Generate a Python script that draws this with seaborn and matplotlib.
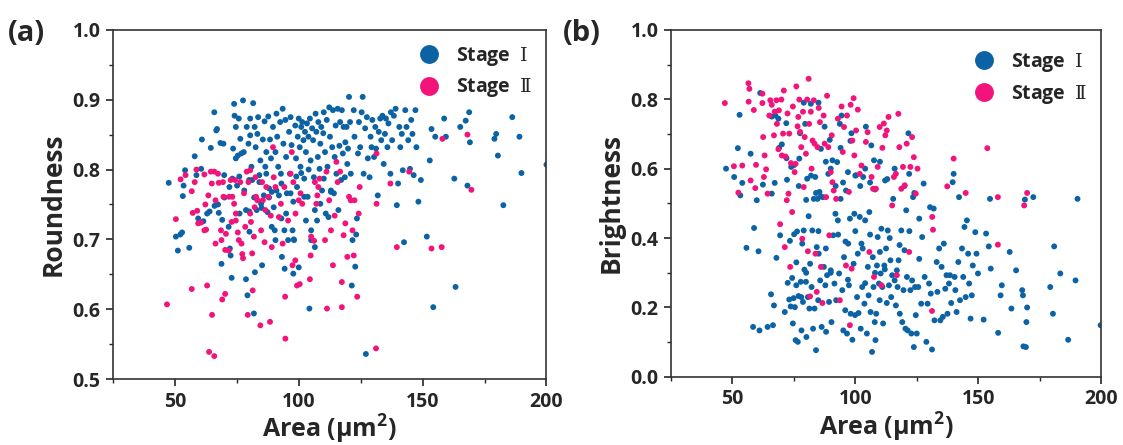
"""Roundness / Brightness vs Area, Stage I and Stage II"""
import matplotlib
matplotlib.use("Agg")
import matplotlib.pyplot as plt
from matplotlib.ticker import MultipleLocator
import pandas as pd
import seaborn as sns

# ---- panel (a): Area vs Roundness ----
a_stage1 = [
    (47.5, 0.781), (50.4, 0.704), (51.2, 0.684), (52.2, 0.707), (52.9, 0.710), (53.2, 0.762), (53.5, 0.777),
    (54.1, 0.799), (55.8, 0.688), (58.0, 0.819), (58.7, 0.792), (59.4, 0.730), (60.6, 0.801), (60.9, 0.843),
    (63.0, 0.737), (64.5, 0.831), (65.9, 0.882), (66.7, 0.856), (67.0, 0.858), (67.4, 0.750), (67.7, 0.738),
    (68.4, 0.838), (68.8, 0.665), (69.1, 0.728), (69.6, 0.837), (69.9, 0.792), (71.7, 0.718), (72.2, 0.687),
    (72.5, 0.677), (72.9, 0.645), (73.2, 0.787), (73.5, 0.830), (73.9, 0.894), (74.1, 0.877), (74.6, 0.861),
    (74.6, 0.816), (75.1, 0.777), (75.4, 0.820), (75.8, 0.873), (76.1, 0.737), (76.4, 0.844), (76.8, 0.823),
    (77.5, 0.899), (77.8, 0.825), (78.7, 0.742), (78.7, 0.643), (79.0, 0.861), (79.3, 0.620), (79.7, 0.837),
    (80.1, 0.711), (80.4, 0.873), (80.4, 0.849), (80.9, 0.804), (81.2, 0.785), (81.6, 0.895), (81.9, 0.594),
    (82.2, 0.861), (82.3, 0.653), (82.6, 0.832), (83.0, 0.742), (83.3, 0.851), (83.6, 0.875), (84.1, 0.782),
    (84.5, 0.813), (84.8, 0.751), (85.2, 0.663), (85.5, 0.843), (85.9, 0.763), (86.2, 0.869), (86.5, 0.804),
    (86.9, 0.825), (87.4, 0.739), (87.7, 0.876), (88.0, 0.773), (88.4, 0.843), (88.8, 0.816), (89.1, 0.768),
    (89.6, 0.861), (89.9, 0.746), (90.3, 0.713), (90.6, 0.825), (91.0, 0.880), (91.3, 0.847), (91.7, 0.804),
    (92.0, 0.763), (92.5, 0.868), (92.8, 0.794), (93.2, 0.675), (93.5, 0.887), (93.8, 0.837), (94.2, 0.713),
    (94.3, 0.658), (94.6, 0.871), (94.9, 0.818), (95.2, 0.766), (95.7, 0.699), (96.1, 0.854), (96.4, 0.794),
    (96.7, 0.875), (97.1, 0.835), (97.5, 0.713), (97.8, 0.651), (98.1, 0.699), (98.6, 0.863), (98.9, 0.816),
    (99.3, 0.775), (99.6, 0.847), (100.0, 0.873), (100.4, 0.832), (100.7, 0.804), (101.0, 0.861), (101.4, 0.868),
    (101.9, 0.842), (102.2, 0.787), (102.5, 0.854), (102.9, 0.825), (103.3, 0.866), (103.6, 0.761), (103.9, 0.847),
    (104.3, 0.601), (104.5, 0.873), (104.8, 0.813), (105.0, 0.699), (105.4, 0.859), (105.8, 0.842), (106.1, 0.789),
    (106.5, 0.689), (106.8, 0.880), (107.1, 0.854), (107.4, 0.727), (107.7, 0.818), (107.9, 0.868), (108.4, 0.801),
    (108.7, 0.837), (109.1, 0.861), (109.4, 0.770), (109.9, 0.852), (110.1, 0.882), (110.6, 0.825), (110.9, 0.737),
    (111.3, 0.871), (111.6, 0.804), (112.0, 0.732), (112.3, 0.889), (112.6, 0.847), (113.0, 0.768), (113.5, 0.832),
    (113.8, 0.885), (114.2, 0.766), (114.5, 0.818), (114.9, 0.863), (115.2, 0.794), (115.7, 0.887), (116.0, 0.742),
    (116.4, 0.834), (116.7, 0.868), (117.1, 0.785), (117.4, 0.885), (117.8, 0.823), (118.1, 0.861), (118.6, 0.789),
    (118.8, 0.839), (119.3, 0.861), (119.6, 0.808), (119.9, 0.830), (120.3, 0.904), (120.7, 0.868), (121.0, 0.794),
    (121.4, 0.634), (121.7, 0.699), (122.2, 0.885), (122.5, 0.847), (122.8, 0.661), (123.2, 0.707), (123.5, 0.730),
    (123.9, 0.823), (124.3, 0.868), (124.8, 0.832), (125.4, 0.882), (125.8, 0.904), (126.2, 0.794), (126.8, 0.859),
    (127.1, 0.536), (127.5, 0.875), (127.9, 0.816), (128.6, 0.789), (129.0, 0.847), (129.4, 0.832), (129.7, 0.871),
    (130.4, 0.818), (130.9, 0.861), (131.2, 0.830), (131.9, 0.763), (132.3, 0.854), (132.9, 0.873), (133.3, 0.842),
    (133.8, 0.877), (134.3, 0.808), (134.8, 0.851), (135.2, 0.873), (135.8, 0.832), (136.2, 0.866), (137.0, 0.794),
    (137.2, 0.882), (137.7, 0.842), (138.4, 0.877), (139.1, 0.887), (139.6, 0.749), (140.1, 0.780), (140.6, 0.861),
    (141.0, 0.832), (141.6, 0.851), (142.0, 0.799), (142.5, 0.696), (143.0, 0.885), (143.5, 0.861), (144.2, 0.842),
    (144.9, 0.801), (145.4, 0.871), (145.9, 0.851), (146.4, 0.792), (147.1, 0.885), (147.5, 0.832), (148.3, 0.754),
    (149.3, 0.785), (151.7, 0.704), (152.9, 0.813), (153.6, 0.858), (154.3, 0.603), (155.1, 0.847), (158.7, 0.873),
    (159.4, 0.847), (162.8, 0.787), (163.3, 0.632), (165.2, 0.861), (167.4, 0.870), (168.1, 0.777), (168.8, 0.882),
    (169.1, 0.839), (179.0, 0.844), (179.7, 0.851), (180.4, 0.820), (182.6, 0.749), (186.2, 0.875), (189.1, 0.847),
    (189.9, 0.795), (200.0, 0.807),
    (84.1, 0.792), (86.9, 0.794), (89.1, 0.718), (90.6, 0.699), (94.9, 0.737), (96.7, 0.766), (97.8, 0.754),
    (102.2, 0.761), (102.9, 0.727), (105.0, 0.713), (106.5, 0.742), (108.7, 0.751), (110.1, 0.787), (113.0, 0.770),
    (88.0, 0.760), (91.0, 0.770), (93.0, 0.780), (99.0, 0.790), (101.0, 0.795), (104.0, 0.800), (76.0, 0.790),
    (78.0, 0.770), (80.0, 0.785), (82.0, 0.760), (70.0, 0.760), (72.0, 0.775), (61.5, 0.726), (64.0, 0.740),
    (66.0, 0.748), (80.0, 0.740), (85.0, 0.745), (100.0, 0.660), (98.0, 0.700), (93.0, 0.730),
]

a_stage2 = [
    (46.8, 0.607), (50.4, 0.729), (52.3, 0.786), (54.3, 0.792), (56.8, 0.769), (56.8, 0.629), (57.2, 0.738),
    (58.0, 0.782), (58.7, 0.800), (59.0, 0.741), (59.4, 0.723), (60.5, 0.724), (61.9, 0.793), (61.9, 0.713),
    (62.3, 0.750), (62.6, 0.714), (63.0, 0.634), (63.5, 0.763), (63.8, 0.539), (64.5, 0.797), (64.9, 0.780),
    (65.0, 0.592), (65.9, 0.533), (65.9, 0.797), (66.4, 0.694), (66.4, 0.756), (67.4, 0.794), (67.7, 0.781),
    (68.6, 0.713), (68.8, 0.699), (69.1, 0.614), (69.4, 0.782), (69.6, 0.761), (70.3, 0.622), (70.3, 0.685),
    (70.6, 0.708), (71.7, 0.684), (71.9, 0.761), (72.5, 0.785), (72.9, 0.725), (73.2, 0.761), (73.9, 0.751),
    (74.3, 0.785), (74.6, 0.737), (74.6, 0.727), (75.4, 0.710), (75.8, 0.699), (76.4, 0.782), (76.9, 0.694),
    (77.2, 0.679), (77.5, 0.673), (77.9, 0.766), (78.4, 0.718), (79.0, 0.797), (79.4, 0.592), (79.7, 0.782),
    (80.4, 0.737), (80.4, 0.799), (80.7, 0.725), (81.2, 0.680), (81.4, 0.627), (81.9, 0.704), (82.2, 0.746),
    (82.5, 0.789), (82.8, 0.761), (83.3, 0.756), (84.5, 0.577), (84.8, 0.713), (85.2, 0.782), (85.5, 0.756),
    (86.2, 0.696), (86.5, 0.742), (86.9, 0.775), (87.7, 0.761), (88.4, 0.582), (88.7, 0.734), (89.1, 0.689),
    (89.6, 0.832), (89.9, 0.789), (90.6, 0.775), (92.0, 0.732), (92.8, 0.751), (93.5, 0.694), (94.2, 0.775),
    (94.5, 0.618), (94.6, 0.558), (95.7, 0.727), (96.7, 0.794), (97.2, 0.825), (97.5, 0.663), (97.8, 0.782),
    (98.6, 0.670), (98.7, 0.737), (99.3, 0.634), (100.0, 0.756), (100.4, 0.636), (100.7, 0.766), (101.4, 0.751),
    (104.5, 0.643), (104.8, 0.677), (105.0, 0.704), (106.2, 0.698), (106.5, 0.782), (107.1, 0.751), (107.5, 0.763),
    (107.9, 0.775), (108.4, 0.787), (110.6, 0.699), (111.2, 0.797), (111.4, 0.601), (112.3, 0.756), (113.0, 0.713),
    (113.8, 0.663), (114.5, 0.734), (115.2, 0.811), (115.7, 0.782), (116.7, 0.797), (117.4, 0.639), (117.4, 0.603),
    (118.1, 0.706), (118.8, 0.723), (119.6, 0.675), (120.3, 0.761), (121.0, 0.756), (121.7, 0.713), (122.2, 0.677),
    (122.5, 0.756), (123.6, 0.618), (124.2, 0.737), (124.6, 0.775), (131.2, 0.544), (131.4, 0.751), (131.4, 0.823),
    (137.0, 0.780), (139.6, 0.689), (144.6, 0.797), (153.6, 0.687), (157.7, 0.689), (158.0, 0.844), (168.1, 0.850),
    (169.7, 0.771),
]

# ---- panel (b): Area vs Brightness ----
b_stage1 = [
    (47.4, 0.600), (50.7, 0.576), (52.2, 0.659), (52.9, 0.755), (53.2, 0.523), (54.0, 0.559), (55.7, 0.372),
    (57.4, 0.643), (58.4, 0.144), (58.8, 0.429), (59.9, 0.509), (60.6, 0.362), (61.0, 0.134), (61.3, 0.818),
    (62.4, 0.554), (64.3, 0.144), (65.7, 0.238), (66.0, 0.528), (66.5, 0.149), (66.9, 0.206), (67.2, 0.559),
    (67.5, 0.753), (67.9, 0.343), (68.7, 0.744), (69.4, 0.408), (70.1, 0.670), (71.3, 0.187), (71.9, 0.731),
    (72.2, 0.568), (72.5, 0.271), (73.1, 0.223), (73.4, 0.392), (73.7, 0.203), (73.9, 0.605), (74.3, 0.285),
    (74.6, 0.154), (74.9, 0.227), (75.1, 0.411), (75.4, 0.201), (75.7, 0.106), (76.0, 0.264), (76.3, 0.419),
    (76.6, 0.101), (76.9, 0.233), (77.2, 0.629), (77.5, 0.702), (77.8, 0.274), (78.1, 0.134), (78.4, 0.384),
    (78.7, 0.216), (79.0, 0.422), (79.3, 0.309), (79.6, 0.729), (79.9, 0.274), (80.1, 0.115), (80.4, 0.571),
    (80.7, 0.230), (81.0, 0.463), (81.3, 0.197), (81.6, 0.326), (81.9, 0.787), (82.2, 0.259), (82.5, 0.422),
    (82.8, 0.139), (83.1, 0.513), (83.4, 0.197), (83.7, 0.576), (84.0, 0.077), (84.3, 0.374), (84.6, 0.513),
    (84.9, 0.221), (85.1, 0.355), (85.4, 0.533), (85.7, 0.278), (86.0, 0.657), (86.3, 0.144), (86.8, 0.518),
    (87.2, 0.317), (87.5, 0.721), (87.8, 0.264), (88.1, 0.130), (88.5, 0.293), (89.0, 0.585), (89.3, 0.216),
    (89.6, 0.683), (90.0, 0.307), (90.3, 0.158), (90.7, 0.624), (91.0, 0.408), (91.5, 0.269), (91.9, 0.470),
    (92.2, 0.221), (92.6, 0.619), (92.9, 0.451), (93.4, 0.298), (93.7, 0.729), (94.0, 0.513), (94.4, 0.753),
    (94.7, 0.250), (95.1, 0.134), (95.4, 0.345), (95.9, 0.192), (96.2, 0.537), (96.6, 0.125), (97.1, 0.384),
    (97.4, 0.264), (97.8, 0.456), (98.1, 0.182), (98.4, 0.702), (98.8, 0.107), (99.3, 0.326), (99.6, 0.470),
    (99.9, 0.178), (100.3, 0.581), (100.7, 0.230), (101.0, 0.355), (101.3, 0.184), (101.8, 0.461), (102.2, 0.139),
    (102.5, 0.384), (102.8, 0.259), (103.2, 0.576), (103.7, 0.211), (104.0, 0.451), (104.3, 0.721), (104.7, 0.125),
    (105.1, 0.317), (105.4, 0.235), (105.7, 0.475), (106.2, 0.187), (106.5, 0.667), (106.8, 0.072), (107.1, 0.345),
    (107.4, 0.259), (107.6, 0.624), (107.9, 0.158), (108.2, 0.106), (108.5, 0.182), (108.8, 0.321), (109.1, 0.403),
    (109.6, 0.269), (109.9, 0.221), (110.3, 0.298), (110.6, 0.427), (111.0, 0.259), (111.3, 0.154), (111.8, 0.321),
    (112.1, 0.566), (112.5, 0.370), (112.8, 0.213), (113.2, 0.422), (113.7, 0.264), (114.3, 0.336), (114.6, 0.230),
    (115.0, 0.293), (115.4, 0.513), (116.0, 0.278), (116.5, 0.206), (116.9, 0.307), (117.2, 0.259), (117.6, 0.336),
    (118.1, 0.182), (118.7, 0.422), (119.1, 0.158), (119.6, 0.250), (120.0, 0.365), (120.4, 0.139), (120.7, 0.480),
    (121.0, 0.288), (121.3, 0.134), (121.6, 0.702), (121.9, 0.585), (122.4, 0.250), (122.8, 0.125), (123.1, 0.278),
    (123.5, 0.518), (123.8, 0.086), (124.3, 0.259), (124.6, 0.178), (125.0, 0.125), (125.6, 0.259), (126.0, 0.456),
    (126.8, 0.211), (127.2, 0.403), (127.8, 0.557), (128.2, 0.288), (128.9, 0.101), (129.4, 0.211), (130.0, 0.269),
    (130.4, 0.489), (130.7, 0.240), (131.2, 0.079), (131.9, 0.485), (132.2, 0.163), (133.1, 0.331), (133.4, 0.245),
    (134.1, 0.370), (134.6, 0.163), (135.1, 0.317), (135.6, 0.173), (136.0, 0.384), (136.6, 0.254), (137.1, 0.293),
    (137.5, 0.182), (138.1, 0.269), (138.5, 0.293), (139.0, 0.213), (139.6, 0.561), (140.0, 0.585), (140.4, 0.288),
    (140.7, 0.250), (141.2, 0.187), (141.9, 0.331), (142.2, 0.518), (142.6, 0.221), (143.4, 0.370), (143.9, 0.288),
    (144.4, 0.432), (144.9, 0.230), (145.4, 0.451), (145.9, 0.355), (146.3, 0.269), (146.9, 0.168), (147.4, 0.235),
    (147.8, 0.321), (148.8, 0.417), (149.3, 0.355), (149.9, 0.298), (152.2, 0.165), (153.2, 0.413), (154.3, 0.376),
    (154.8, 0.513), (155.1, 0.312), (158.1, 0.127), (159.1, 0.235), (159.6, 0.264), (162.8, 0.360), (163.5, 0.197),
    (165.4, 0.307), (167.9, 0.250), (168.2, 0.235), (168.4, 0.088), (169.0, 0.511), (169.4, 0.086), (169.6, 0.158),
    (169.9, 0.200), (172.4, 0.518), (179.3, 0.259), (180.4, 0.182), (180.9, 0.376), (183.4, 0.298), (186.6, 0.107),
    (189.6, 0.278), (190.4, 0.513), (199.8, 0.149),
    (66.0, 0.750), (69.0, 0.660), (72.0, 0.630), (75.0, 0.610), (77.0, 0.550), (80.0, 0.510), (82.0, 0.580),
    (84.0, 0.530), (86.0, 0.520), (88.0, 0.620), (90.0, 0.600), (92.0, 0.550), (95.0, 0.560), (97.0, 0.590),
    (100.0, 0.580), (102.0, 0.550), (104.0, 0.600), (106.0, 0.560), (108.0, 0.540), (110.0, 0.620), (113.0, 0.570),
    (116.0, 0.600), (120.0, 0.550), (124.0, 0.530), (98.0, 0.680), (94.0, 0.660), (79.0, 0.790), (85.0, 0.790),
    (85.0, 0.420), (88.0, 0.370), (93.0, 0.410), (96.0, 0.390), (100.0, 0.420), (103.0, 0.370), (106.0, 0.410),
    (110.0, 0.360), (114.0, 0.400), (118.0, 0.380), (122.0, 0.420), (126.0, 0.340), (90.0, 0.300), (97.0, 0.280),
    (104.0, 0.270), (108.0, 0.300), (112.0, 0.310), (80.0, 0.300), (76.0, 0.330), (78.0, 0.230),
]

b_stage2 = [
    (46.9, 0.789), (50.6, 0.607), (52.4, 0.531), (54.0, 0.609), (56.5, 0.846), (56.9, 0.830), (56.6, 0.793),
    (57.4, 0.566), (58.7, 0.769), (59.3, 0.544), (59.6, 0.611), (62.2, 0.816), (62.2, 0.789), (62.5, 0.691),
    (62.8, 0.576), (63.1, 0.638), (63.7, 0.598), (64.3, 0.528), (65.0, 0.753), (65.4, 0.797), (66.0, 0.784),
    (66.9, 0.696), (67.2, 0.764), (67.9, 0.797), (68.1, 0.729), (68.7, 0.656), (68.9, 0.768), (69.4, 0.440),
    (69.9, 0.799), (70.1, 0.638), (70.6, 0.701), (70.9, 0.825), (71.3, 0.374), (71.6, 0.635), (72.1, 0.509),
    (72.4, 0.759), (72.8, 0.528), (73.1, 0.701), (73.5, 0.317), (73.8, 0.616), (74.3, 0.475), (74.6, 0.779),
    (75.3, 0.590), (75.7, 0.614), (76.0, 0.837), (76.5, 0.722), (76.8, 0.749), (77.2, 0.799), (77.5, 0.706),
    (78.0, 0.662), (78.4, 0.398), (78.7, 0.764), (79.0, 0.547), (79.4, 0.691), (79.9, 0.643), (80.4, 0.799),
    (80.7, 0.362), (81.0, 0.859), (81.2, 0.729), (81.6, 0.232), (81.9, 0.764), (82.2, 0.600), (82.6, 0.681),
    (83.1, 0.797), (83.4, 0.672), (83.8, 0.355), (84.3, 0.245), (84.6, 0.662), (85.1, 0.775), (85.6, 0.734),
    (86.0, 0.317), (86.6, 0.213), (87.1, 0.753), (87.5, 0.672), (88.1, 0.518), (88.5, 0.810), (89.0, 0.662),
    (89.4, 0.408), (90.0, 0.590), (90.4, 0.696), (90.7, 0.561), (91.2, 0.537), (92.2, 0.513), (92.9, 0.744),
    (93.7, 0.221), (94.4, 0.779), (94.9, 0.648), (95.4, 0.720), (96.2, 0.321), (96.6, 0.753), (97.4, 0.533),
    (97.8, 0.149), (98.1, 0.784), (98.5, 0.312), (98.8, 0.681), (99.3, 0.803), (99.6, 0.638), (100.3, 0.710),
    (101.0, 0.770), (101.8, 0.585), (102.5, 0.609), (104.3, 0.677), (105.0, 0.705), (105.7, 0.360), (106.6, 0.576),
    (107.2, 0.542), (107.6, 0.288), (108.4, 0.542), (109.1, 0.605), (109.9, 0.720), (110.6, 0.264), (111.0, 0.660),
    (111.6, 0.730), (112.2, 0.696), (112.8, 0.710), (113.5, 0.749), (115.0, 0.494), (115.7, 0.576), (116.5, 0.585),
    (116.9, 0.293), (117.5, 0.758), (117.9, 0.662), (118.7, 0.542), (119.4, 0.605), (120.1, 0.552), (120.9, 0.672),
    (121.9, 0.360), (122.4, 0.605), (123.1, 0.691), (123.8, 0.633), (124.6, 0.528), (125.3, 0.600), (131.3, 0.461),
    (131.6, 0.424), (131.2, 0.190), (137.4, 0.549), (140.0, 0.629), (144.9, 0.530), (153.7, 0.659), (158.0, 0.518),
    (158.0, 0.381), (168.7, 0.494), (169.9, 0.530),
]

stage_labels = ["Stage  $\\mathrm{Ⅰ}$", "Stage  $\\mathrm{Ⅱ}$"]
colors = ["#0b62a4", "#f2137b"]


def make_df(s1, s2, col):
    d1 = pd.DataFrame(s1, columns=["Area", col])
    d1["Stage"] = stage_labels[0]
    d2 = pd.DataFrame(s2, columns=["Area", col])
    d2["Stage"] = stage_labels[1]
    return pd.concat([d1, d2], ignore_index=True)


df_a = make_df(a_stage1, a_stage2, "Roundness")
df_b = make_df(b_stage1, b_stage2, "Brightness")

sns.set_style("ticks")
plt.rcParams["font.family"] = ["Open Sans", "DejaVu Sans"]
plt.rcParams["font.weight"] = "bold"
plt.rcParams["axes.labelweight"] = "bold"
# roman numerals drawn thin and serif, superscript bold sans
plt.rcParams["mathtext.fontset"] = "custom"
plt.rcParams["mathtext.rm"] = "DejaVu Serif:weight=normal"
plt.rcParams["mathtext.bf"] = "Open Sans:bold"

fig = plt.figure(figsize=(11.23, 4.45), dpi=100)
ax1 = fig.add_axes([0.1006, 0.148, 0.386, 0.785])
ax2 = fig.add_axes([0.5975, 0.153, 0.383, 0.780])

panels = [
    (ax1, df_a, "Roundness", (0.5, 1.0), 0.1, 0.05, "(a)", 0.007, (0.985, 0.98)),
    (ax2, df_b, "Brightness", (0.0, 1.0), 0.2, 0.1, "(b)", 0.501, (0.985, 0.962)),
]

for ax, df, col, ylim, major, minor, tag, tx, anchor in panels:
    sns.scatterplot(data=df, x="Area", y=col, hue="Stage", hue_order=stage_labels,
                    palette=colors, s=18, linewidth=0, alpha=1, ax=ax)
    ax.set_xlim(25, 200)
    ax.set_ylim(*ylim)
    ax.set_xticks([50, 100, 150, 200])
    ax.xaxis.set_minor_locator(MultipleLocator(25))
    ax.yaxis.set_major_locator(MultipleLocator(major))
    ax.yaxis.set_minor_locator(MultipleLocator(minor))
    ax.set_xlabel("Area (μm$^\\mathbf{2}$)", fontsize=18, labelpad=1)
    ax.set_ylabel(col, fontsize=19, labelpad=4)
    ax.tick_params(which="major", direction="out", length=5, width=1.2, labelsize=14, pad=4)
    ax.tick_params(which="minor", direction="out", length=3, width=1.0)
    for lab in ax.get_xticklabels() + ax.get_yticklabels():
        lab.set_fontweight("bold")
    for sp in ax.spines.values():
        sp.set_color("#333333")
        sp.set_linewidth(1.2)
    ax.legend(loc="upper right", bbox_to_anchor=anchor, borderaxespad=0, frameon=False,
              markerscale=3.2, handletextpad=0.4, labelspacing=0.45,
              prop={"family": ["Open Sans", "DejaVu Serif"], "weight": "bold", "size": 14})
    fig.text(tx, 0.925, tag, fontsize=21, fontweight="bold", va="center", ha="left")

fig.savefig("out.png", dpi=100)
